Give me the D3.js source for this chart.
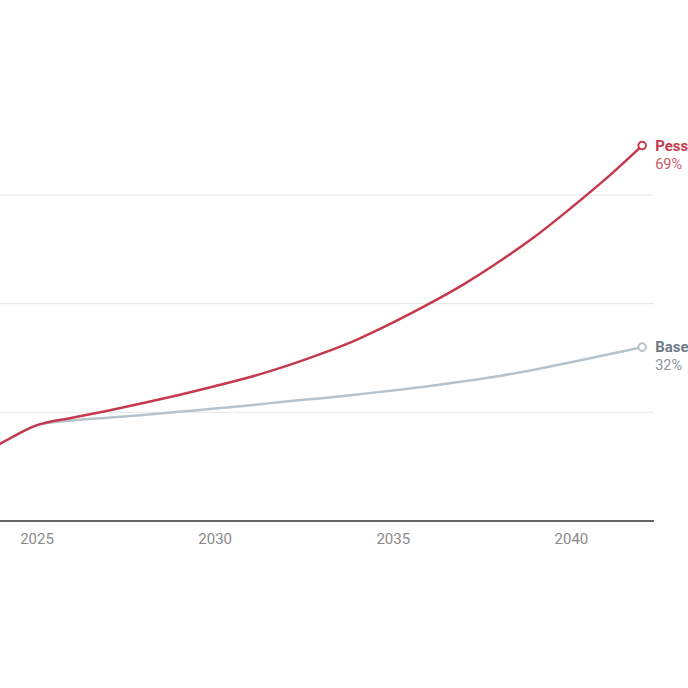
<!DOCTYPE html>
<html>
<head>
<meta charset="utf-8">
<script src="https://cdn.jsdelivr.net/npm/d3@7"></script>
<style>
  html, body { margin: 0; padding: 0; background: #fff; }
  svg { display: block; font-family: Roboto, "Noto Sans", sans-serif; }
</style>
</head>
<body>
<svg id="chart" width="688" height="688"></svg>
<script>
// values (share, %)
const years = [2023, 2024, 2025, 2026, 2027, 2028, 2029, 2030, 2031, 2032,
               2033, 2034, 2035, 2036, 2037, 2038, 2039, 2040, 2041, 2042];
const pessimistic = [10.9, 14.3, 17.6, 19.0, 20.3, 21.7, 23.2, 24.8, 26.5, 28.5,
                     30.8, 33.4, 36.5, 39.9, 43.6, 47.8, 52.4, 57.6, 63.1, 69.1];
const baseline = [10.9, 14.3, 17.6, 18.5, 19.0, 19.5, 20.1, 20.7, 21.3, 22.0,
                  22.6, 23.3, 24.0, 24.8, 25.7, 26.7, 27.9, 29.2, 30.6, 32.0];
const gridValues = [20, 40, 60];
const tickYears = [2025, 2030, 2035, 2040];

const series = [
  { name: "Baseline", values: baseline, color: "#b7c3cb", labelColor: "#6e7a83", valueColor: "#8c969d", end: "32%" },
  { name: "Pessimistic", values: pessimistic, color: "#c43a4c", labelColor: "#c43a4c", valueColor: "#cf5a69", end: "69%" }
];

const svg = d3.select("#chart");
const plotRight = 654;

const x = d3.scaleLinear().domain([2025, 2040]).range([36.5, 570.9]);
const y = d3.scaleLinear().domain([0, 60]).range([521, 195]);

// gridlines
svg.append("g")
  .selectAll("line")
  .data(gridValues)
  .join("line")
  .attr("x1", 0)
  .attr("x2", plotRight)
  .attr("y1", (d) => y(d))
  .attr("y2", (d) => y(d))
  .attr("stroke", "#e6e6e6")
  .attr("stroke-width", 1);

// x axis
const xAxis = svg.append("g")
  .attr("transform", `translate(0,${y(0)})`)
  .call(d3.axisBottom(x).tickValues(tickYears).tickFormat(d3.format("d")).tickSize(0).tickPadding(12));
xAxis.select(".domain").remove();
xAxis.selectAll("text")
  .attr("fill", "#8a8a8a")
  .attr("font-size", "15px")
  .attr("font-family", "Roboto, sans-serif");
svg.append("line")
  .attr("x1", 0)
  .attr("x2", plotRight)
  .attr("y1", y(0))
  .attr("y2", y(0))
  .attr("stroke", "#333")
  .attr("stroke-width", 1.5);

const line = d3.line()
  .x((d, i) => x(years[i]))
  .y((d) => y(d))
  .curve(d3.curveMonotoneX);

for (const s of series) {
  svg.append("path")
    .datum(s.values)
    .attr("fill", "none")
    .attr("stroke", s.color)
    .attr("stroke-width", 2.5)
    .attr("d", line);
}

// end markers and labels (names run off the right edge, as in the original crop)
for (const s of series) {
  const last = s.values.length - 1;
  const cx = x(years[last]);
  const cy = y(s.values[last]);
  svg.append("circle")
    .attr("cx", cx)
    .attr("cy", cy)
    .attr("r", 3.8)
    .attr("fill", "#fff")
    .attr("stroke", s.color)
    .attr("stroke-width", 2);

  svg.append("text")
    .attr("x", cx + 13)
    .attr("y", cy + 5)
    .attr("fill", s.labelColor)
    .attr("font-size", "15px")
    .attr("font-weight", "700")
    .text(s.name);

  svg.append("text")
    .attr("x", cx + 13)
    .attr("y", cy + 23)
    .attr("fill", s.valueColor)
    .attr("font-size", "14.5px")
    .text(s.end);
}
</script>
</body>
</html>
